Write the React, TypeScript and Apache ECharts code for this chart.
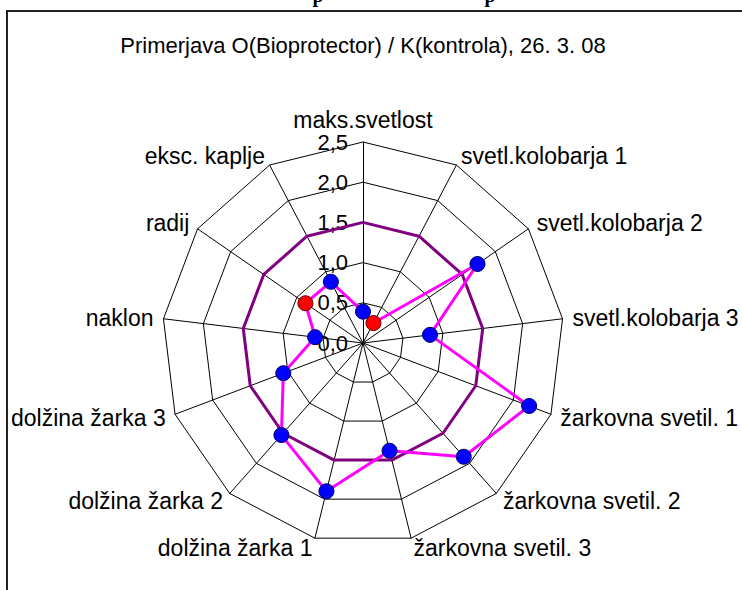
import React, { useEffect, useRef } from "react";
import * as echarts from "echarts";

// Axis names in clockwise order starting at the top (as in the reference)
const axisNames = [
  "maks.svetlost",
  "svetl.kolobarja 1",
  "svetl.kolobarja 2",
  "svetl.kolobarja 3",
  "žarkovna svetil. 1",
  "žarkovna svetil. 2",
  "žarkovna svetil. 3",
  "dolžina žarka 1",
  "dolžina žarka 2",
  "dolžina žarka 3",
  "naklon",
  "radij",
  "eksc. kaplje",
];
// Ratio O / K per axis (clockwise order)
const ratioValues = [0.39, 0.28, 1.73, 0.84, 2.21, 1.89, 1.38, 1.9, 1.53, 1.06, 0.6, 0.87, 0.86];
// Which axes have a red marker
const redAxes = ["svetl.kolobarja 1", "radij"];
// Control reference level
const controlValues = [1.5, 1.5, 1.5, 1.5, 1.5, 1.5, 1.5, 1.5, 1.5, 1.5, 1.5, 1.5, 1.5];
const axisMax = 2.5;
const titleText = "Primerjava O(Bioprotector) / K(kontrola), 26. 3. 08";

const FONT = "Arial, 'Liberation Sans', sans-serif";
const CENTER = [363, 343];
const RADIUS = 201;

// ECharts places radar indicators counter-clockwise; reorder to get clockwise.
const order = [0, ...Array.from({ length: axisNames.length - 1 }, (_, i) => axisNames.length - 1 - i)];
const reorder = (arr: any[]) => order.map((i) => arr[i]);

export default function App() {
  const ref = useRef<HTMLDivElement>(null);
  useEffect(() => {
    document.body.style.margin = "0";
    const chart = echarts.init(ref.current!, null, { renderer: "svg" });
    const fmt = (v: number) => Number(v).toFixed(1).replace(".", ",");
    const indicator = reorder(axisNames).map((name, i) => {
      const ind: any = { name, min: 0, max: axisMax };
      if (i === 0) {
        ind.axisLabel = {
          show: true,
          margin: 15,
          color: "#000",
          fontSize: 22,
          fontFamily: FONT,
          formatter: fmt,
        };
      }
      return ind;
    });
    const markerData = ratioValues.map((v, i) => ({
      value: [v, i],
      itemStyle: redAxes.includes(axisNames[i])
        ? { color: "#FF0000", borderColor: "#600000" }
        : { color: "#0000FF", borderColor: "#000060" },
    }));
    chart.setOption({
      animation: false,
      backgroundColor: "#fff",
      graphic: [
        {
          type: "rect",
          shape: { x: 7, y: 11, width: 800, height: 700 },
          style: { fill: "none", stroke: "#222", lineWidth: 2 },
          z: -1,
        },
        {
          type: "text",
          x: 363,
          y: 45,
          style: {
            text: titleText,
            font: `22px ${FONT}`,
            fill: "#000",
            align: "center",
            verticalAlign: "middle",
          },
        },
        {
          type: "text",
          x: 318,
          y: 5,
          style: { text: "p", font: `bold 20px 'Liberation Serif', serif`, fill: "#000", align: "center", verticalAlign: "bottom" },
        },
        {
          type: "text",
          x: 490,
          y: 5,
          style: { text: "p", font: `bold 20px 'Liberation Serif', serif`, fill: "#000", align: "center", verticalAlign: "bottom" },
        },
      ],
      radar: {
        center: CENTER,
        radius: RADIUS,
        startAngle: 90,
        shape: "polygon",
        splitNumber: 5,
        nameGap: 10,
        axisName: { color: "#000", fontSize: 23, fontFamily: FONT },
        axisLine: { show: true, lineStyle: { color: "#000", width: 1 } },
        axisTick: { show: false },
        axisLabel: { show: false },
        splitLine: { show: true, lineStyle: { color: "#000", width: 1 } },
        splitArea: { show: false },
        indicator,
      },
      polar: { center: CENTER, radius: RADIUS },
      angleAxis: {
        type: "value",
        min: 0,
        max: axisNames.length,
        startAngle: 90,
        clockwise: true,
        show: false,
      },
      radiusAxis: { type: "value", min: 0, max: axisMax, show: false },
      series: [
        {
          type: "radar",
          symbol: "none",
          lineStyle: { color: "#800080", width: 3 },
          data: [{ value: reorder(controlValues), name: "K" }],
          z: 2,
        },
        {
          type: "radar",
          symbol: "none",
          lineStyle: { color: "#FF00FF", width: 3 },
          data: [{ value: reorder(ratioValues), name: "O" }],
          z: 3,
        },
        {
          type: "scatter",
          coordinateSystem: "polar",
          symbol: "circle",
          symbolSize: 15,
          itemStyle: { borderWidth: 1, opacity: 1 },
          data: markerData,
          z: 4,
        },
      ],
    });
    return () => chart.dispose();
  }, []);
  return <div ref={ref} style={{ position: "fixed", left: 0, top: 0, width: 742, height: 590 }} />;
}
